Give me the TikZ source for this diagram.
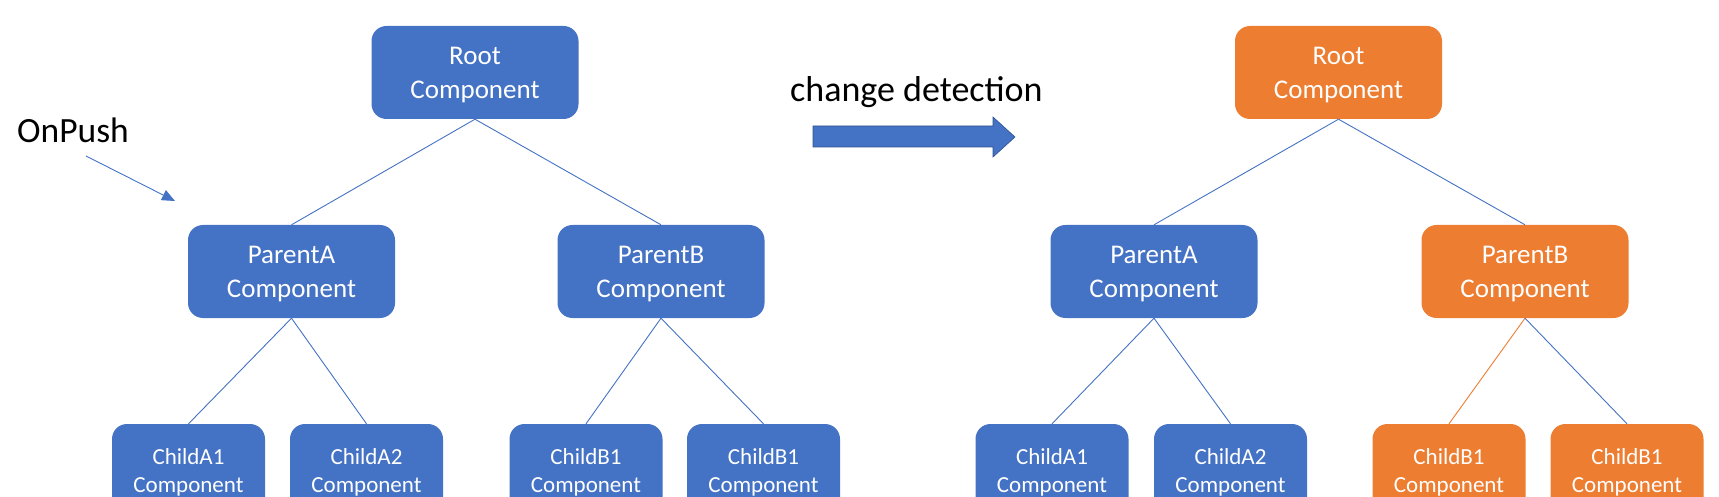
\documentclass[tikz,border=0pt]{standalone}
\usepackage{fontspec}
\setmainfont{Carlito}
\usetikzlibrary{arrows.meta}
\definecolor{obl}{HTML}{4472C4}
\definecolor{oor}{HTML}{ED7D31}
\definecolor{obd}{HTML}{2F528F}
\tikzset{
  box/.style={rounded corners=15pt, inner sep=0pt, align=center, text=white,
    minimum width=207pt, minimum height=93pt},
  bigbox/.style={box, text depth=-2.5pt, font=\fontsize{27}{34}\selectfont},
  smallbox/.style={box, text depth=0pt, minimum width=153pt, font=\fontsize{23}{28}\selectfont},
  bluebox/.style={fill=obl},
  orangebox/.style={fill=oor},
  link/.style={draw=obl, line width=0.9pt},
  olink/.style={draw=oor, line width=0.9pt},
  lbl/.style={inner sep=0pt, anchor=base west, font=\fontsize{35.5}{40}\selectfont}
}
\begin{document}
\begin{tikzpicture}[x=1pt,y=-1pt]
\useasboundingbox (0,0) rectangle (1719,497);
% left tree
\node[bigbox,bluebox] (rootL) at (475,72.5) {Root\\Component};
\node[bigbox,bluebox] (paL) at (291.5,271.5) {ParentA\\Component};
\node[bigbox,bluebox] (pbL) at (661,271.5) {ParentB\\Component};
\node[smallbox,bluebox] (a1L) at (188.5,470.5) {ChildA1\\Component};
\node[smallbox,bluebox] (a2L) at (366.5,470.5) {ChildA2\\Component};
\node[smallbox,bluebox] (b1L) at (586,470.5) {ChildB1\\Component};
\node[smallbox,bluebox] (b2L) at (763.5,470.5) {ChildB1\\Component};
\draw[link] (rootL.south) -- (paL.north);
\draw[link] (rootL.south) -- (pbL.north);
\draw[link] (paL.south) -- (a1L.north);
\draw[link] (paL.south) -- (a2L.north);
\draw[link] (pbL.south) -- (b1L.north);
\draw[link] (pbL.south) -- (b2L.north);
% right tree
\node[bigbox,orangebox] (rootR) at (1338.5,72.5) {Root\\Component};
\node[bigbox,bluebox] (paR) at (1154,271.5) {ParentA\\Component};
\node[bigbox,orangebox] (pbR) at (1525,271.5) {ParentB\\Component};
\node[smallbox,bluebox] (a1R) at (1052,470.5) {ChildA1\\Component};
\node[smallbox,bluebox] (a2R) at (1230.5,470.5) {ChildA2\\Component};
\node[smallbox,orangebox] (b1R) at (1449,470.5) {ChildB1\\Component};
\node[smallbox,orangebox] (b2R) at (1627,470.5) {ChildB1\\Component};
\draw[link] (rootR.south) -- (paR.north);
\draw[link] (rootR.south) -- (pbR.north);
\draw[link] (paR.south) -- (a1R.north);
\draw[link] (paR.south) -- (a2R.north);
\draw[olink] (pbR.south) -- (b1R.north);
\draw[link] (pbR.south) -- (b2R.north);
% labels
\node[lbl] (onpush) at (17,143) {OnPush};
\coordinate (op1) at (86,156);
\coordinate (op2) at (175,201);
\draw[link, -{Triangle[length=13pt,width=11pt]}] (op1) -- (op2);
\node[lbl, font=\fontsize{36}{40}\selectfont] (cd) at (790,101.5) {change detection};
\filldraw[fill=obl, draw=obd, line width=0.6pt]
  (813,126) -- (993,126) -- (993,117) -- (1015,137) -- (993,157) -- (993,147) -- (813,147) -- cycle;
\end{tikzpicture}
\end{document}
